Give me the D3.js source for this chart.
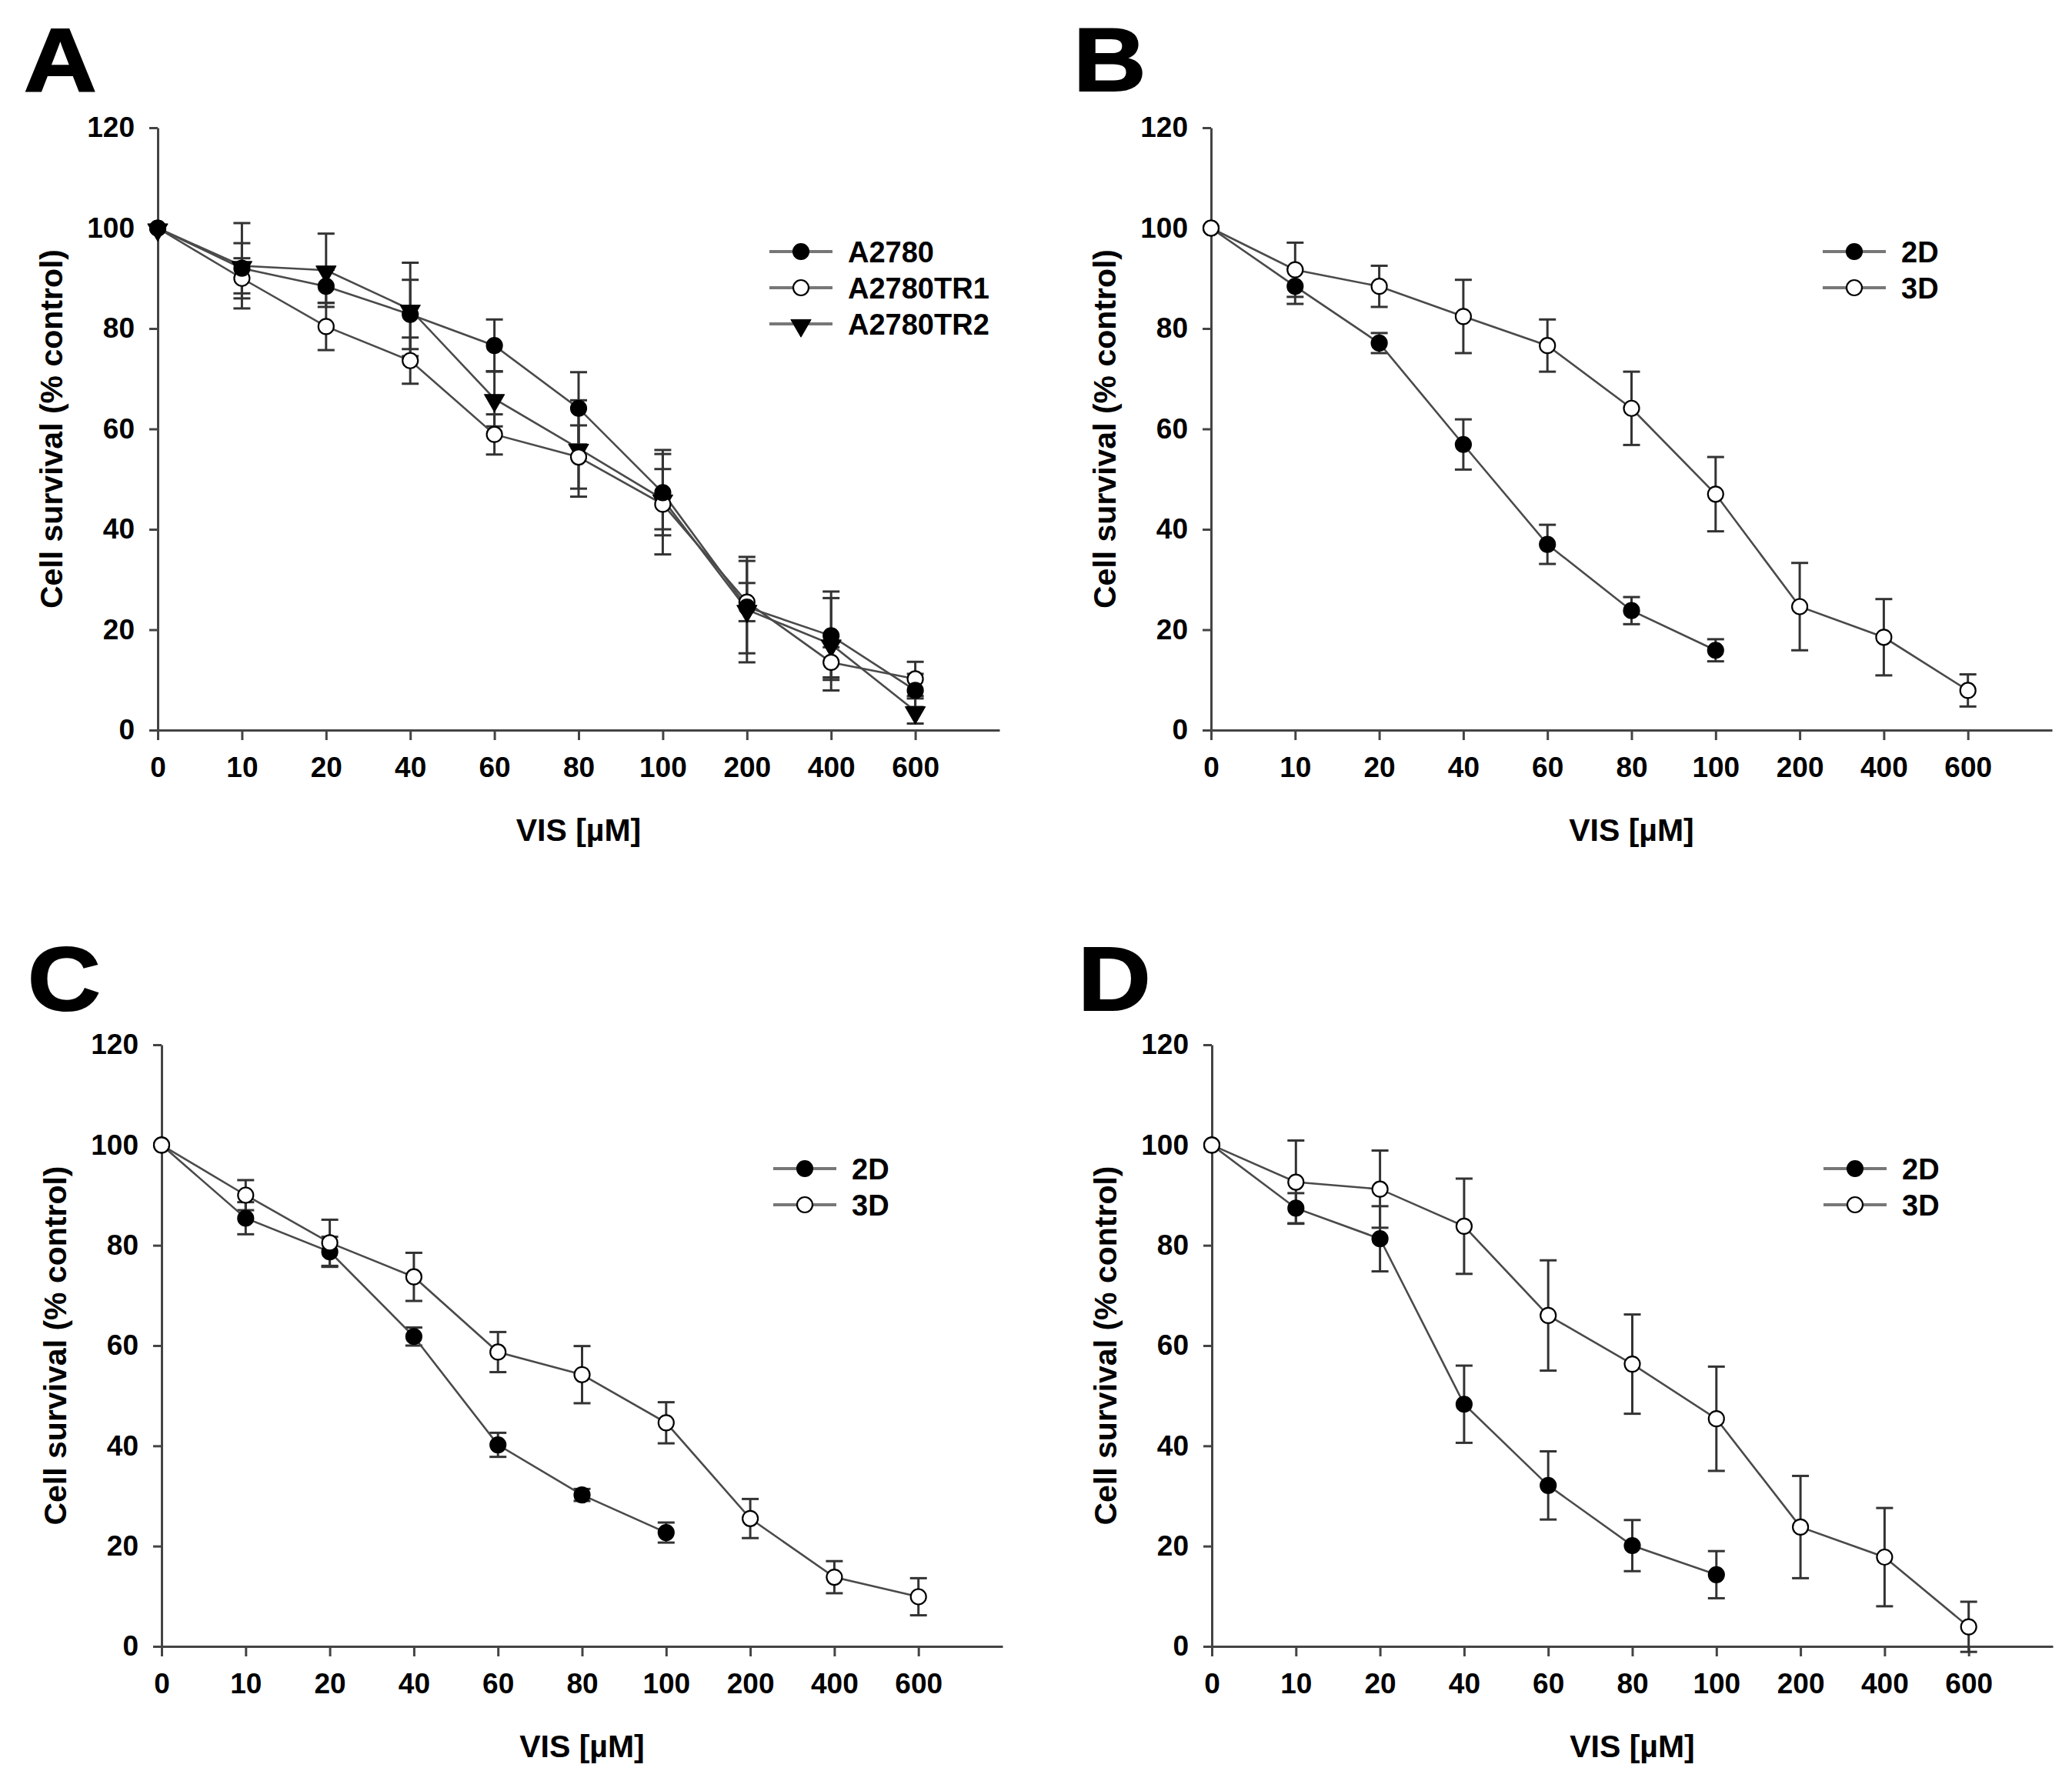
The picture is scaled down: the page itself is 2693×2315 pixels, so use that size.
<!DOCTYPE html>
<html>
<head>
<meta charset="utf-8">
<script src="https://cdn.jsdelivr.net/npm/d3@7"></script>
<style>
  html, body { margin: 0; padding: 0; background: #fff; }
  text { font-family: "Liberation Sans", Arial, sans-serif; font-weight: bold; fill: #000; }
</style>
</head>
<body>
<svg id="chart" width="2693" height="2315"></svg>
<script>
// ---------- Data ----------
const categories = ["0", "10", "20", "40", "60", "80", "100", "200", "400", "600"];
const yTicks = [0, 20, 40, 60, 80, 100, 120];

// Panel A
const aA2780     = [100, 92.0, 88.4, 82.8, 76.6, 64.1, 47.3, 24.5, 18.8, 7.9];
const aA2780Err  = [0, 5.0, 3.3, 6.9, 5.2, 7.2, 8.5, 9.2, 8.8, 3.3];
const aTR1       = [100, 90.0, 80.4, 73.6, 58.9, 54.4, 45.0, 25.5, 13.5, 10.2];
const aTR1Err    = [0, 4.0, 4.7, 4.6, 4.0, 6.3, 10.0, 3.8, 3.0, 3.4];
const aTR2       = [100, 92.5, 91.6, 83.8, 66.0, 56.1, 46.0, 24.0, 17.1, 3.8];
const aTR2Err    = [0, 8.5, 7.3, 9.3, 5.5, 9.6, 6.0, 10.5, 9.2, 2.5];

// Panel B
const b2D    = [100, 88.4, 77.1, 56.9, 37.0, 23.8, 15.9];
const b2DErr = [0, 3.5, 2.0, 5.0, 3.9, 2.7, 2.2];
const b3D    = [100, 91.7, 88.4, 82.4, 76.6, 64.1, 47.0, 24.6, 18.5, 7.9];
const b3DErr = [0, 5.4, 4.1, 7.3, 5.2, 7.3, 7.4, 8.7, 7.6, 3.2];

// Panel C
const c2D    = [100, 85.4, 78.7, 61.8, 40.2, 30.2, 22.7];
const c2DErr = [0, 3.2, 3.0, 1.8, 2.4, 1.2, 2.0];
const c3D    = [100, 90.0, 80.5, 73.7, 58.7, 54.2, 44.6, 25.5, 13.8, 9.9];
const c3DErr = [0, 3.0, 4.6, 4.8, 4.0, 5.7, 4.1, 3.9, 3.2, 3.7];

// Panel D
const d2D    = [100, 87.4, 81.3, 48.3, 32.1, 20.1, 14.3];
const d2DErr = [0, 3.0, 6.5, 7.7, 6.8, 5.1, 4.7];
const d3D    = [100, 92.6, 91.2, 83.8, 66.0, 56.3, 45.4, 23.8, 17.8, 3.9];
const d3DErr = [0, 8.3, 7.7, 9.5, 11.0, 9.9, 10.4, 10.2, 9.8, 5.0];

const xTitle = "VIS [µM]";
const yTitle = "Cell survival (% control)";

// ---------- Layout ----------
const svg = d3.select("#chart");
svg.append("rect").attr("width", 2693).attr("height", 2315).attr("fill", "#fff");

const panels = [
  { letter: "A", lx: 31, ly: 119, x0: 205, xEnd: 1299, yTop: 166, yBot: 949, firstOnTop: true,
    series: [
      { name: "A2780", values: aA2780, err: aA2780Err, shape: "circle", fill: "#000" },
      { name: "A2780TR1", values: aTR1, err: aTR1Err, shape: "circle", fill: "#fff" },
      { name: "A2780TR2", values: aTR2, err: aTR2Err, shape: "triangle", fill: "#000" }
    ] },
  { letter: "B", lx: 1395, ly: 118, x0: 1574, xEnd: 2667, yTop: 166, yBot: 949, firstOnTop: false,
    series: [
      { name: "2D", values: b2D, err: b2DErr, shape: "circle", fill: "#000" },
      { name: "3D", values: b3D, err: b3DErr, shape: "circle", fill: "#fff" }
    ] },
  { letter: "C", lx: 36, ly: 1313, x0: 210, xEnd: 1303, yTop: 1358, yBot: 2140, firstOnTop: false,
    series: [
      { name: "2D", values: c2D, err: c2DErr, shape: "circle", fill: "#000" },
      { name: "3D", values: c3D, err: c3DErr, shape: "circle", fill: "#fff" }
    ] },
  { letter: "D", lx: 1401, ly: 1313, x0: 1575, xEnd: 2668, yTop: 1358, yBot: 2140, firstOnTop: false,
    series: [
      { name: "2D", values: d2D, err: d2DErr, shape: "circle", fill: "#000" },
      { name: "3D", values: d3D, err: d3DErr, shape: "circle", fill: "#fff" }
    ] }
];

const triSym = d3.symbol().type(d3.symbolTriangle).size(300);

function drawMarker(g, s, x, y) {
  if (s.shape === "circle") {
    g.append("circle").attr("cx", x).attr("cy", y).attr("r", 10)
      .attr("fill", s.fill).attr("stroke", "#000").attr("stroke-width", 2.2);
  } else {
    g.append("path").attr("d", triSym)
      .attr("transform", `translate(${x},${y + 2}) rotate(180)`)
      .attr("fill", "#000").attr("stroke", "#000").attr("stroke-width", 1);
  }
}

panels.forEach(p => {
  const g = svg.append("g");
  const x = d3.scaleLinear().domain([0, categories.length]).range([p.x0, p.xEnd]);
  const y = d3.scaleLinear().domain([0, 120]).range([p.yBot, p.yTop]);

  // panel letter (slightly wide heavy face)
  g.append("text")
    .attr("transform", `translate(${p.lx},${p.ly}) scale(1.13,1)`)
    .attr("stroke", "#000").attr("stroke-width", 2)
    .style("font-size", "116px").text(p.letter);

  // axes
  const xAxis = d3.axisBottom(x)
    .tickValues(d3.range(categories.length))
    .tickFormat(i => categories[i])
    .tickSize(13).tickSizeOuter(0).tickPadding(22);
  const gx = g.append("g").attr("transform", `translate(0,${p.yBot})`).call(xAxis);
  const yAxis = d3.axisLeft(y).tickValues(yTicks).tickSize(11).tickSizeOuter(0).tickPadding(19);
  const gy = g.append("g").attr("transform", `translate(${p.x0},0)`).call(yAxis);
  [gx, gy].forEach(ax => {
    ax.select(".domain").attr("stroke", "#444").attr("stroke-width", 3);
    ax.selectAll(".tick line").attr("stroke", "#444").attr("stroke-width", 3);
    ax.selectAll(".tick text").style("font-size", "37px")
      .style("font-family", "'Liberation Sans', Arial, sans-serif")
      .style("font-weight", "bold").attr("fill", "#000");
  });

  // axis titles
  g.append("text").attr("x", (p.x0 + p.xEnd) / 2).attr("y", p.yBot + 144)
    .attr("text-anchor", "middle").style("font-size", "41px").text(xTitle);
  g.append("text")
    .attr("transform", `translate(${p.x0 - 139},${(p.yTop + p.yBot) / 2}) rotate(-90)`)
    .attr("text-anchor", "middle").attr("dy", "0.36em")
    .style("font-size", "41px").text(yTitle);

  // error bars
  p.series.forEach(s => {
    s.values.forEach((v, i) => {
      const e = s.err[i];
      if (!e) return;
      const cx = x(i);
      g.append("line").attr("x1", cx).attr("x2", cx).attr("y1", y(v - e)).attr("y2", y(v + e))
        .attr("stroke", "#333").attr("stroke-width", 3);
      [v - e, v + e].forEach(t => {
        g.append("line").attr("x1", cx - 11).attr("x2", cx + 11).attr("y1", y(t)).attr("y2", y(t))
          .attr("stroke", "#333").attr("stroke-width", 3);
      });
    });
  });

  // lines
  const line = d3.line().x((d, i) => x(i)).y(d => y(d));
  p.series.forEach(s => {
    g.append("path").attr("d", line(s.values)).attr("fill", "none")
      .attr("stroke", "#4a4a4a").attr("stroke-width", 2.6);
  });

  // markers
  const order = p.firstOnTop ? p.series.slice().reverse() : p.series;
  order.forEach(s => {
    s.values.forEach((v, i) => drawMarker(g, s, x(i), y(v)));
  });

  // legend
  const lg = g.append("g");
  p.series.forEach((s, k) => {
    const ly = p.yTop + 161 + k * 47;
    lg.append("line").attr("x1", p.x0 + 795).attr("x2", p.x0 + 877).attr("y1", ly).attr("y2", ly)
      .attr("stroke", "#777").attr("stroke-width", 4);
    drawMarker(lg, s, p.x0 + 836, ly);
    lg.append("text").attr("x", p.x0 + 897).attr("y", ly).attr("dy", "0.36em")
      .style("font-size", "38px").text(s.name);
  });
});
</script>
</body>
</html>
